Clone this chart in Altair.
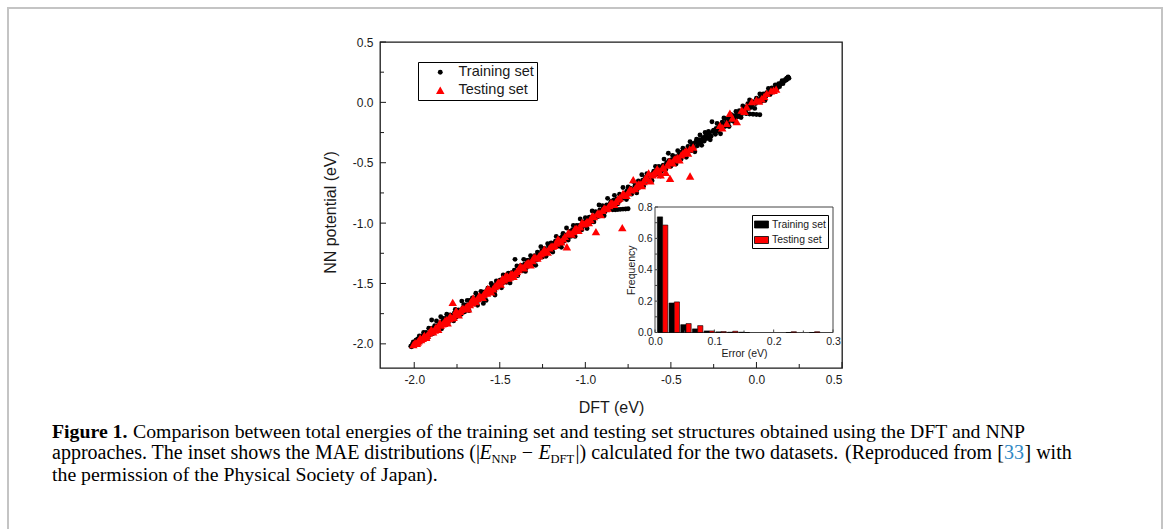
import altair as alt
import pandas as pd

# ---------------- data ----------------
series_names = ["Training set", "Testing set"]

train_dft = [
    -2.02, -2.015, -2.01, -2.00, -1.99, -1.985, -1.975, -1.97, -1.96, -1.955,
    -1.945, -1.94, -1.93, -1.92, -1.915, -1.905, -1.898, -1.89, -1.88, -1.87,
    -1.865, -1.855, -1.845, -1.84, -1.83, -1.82, -1.81,
    -1.80, -1.79, -1.78, -1.77, -1.76, -1.75, -1.74, -1.722, -1.725, -1.71,
    -1.70, -1.69, -1.68, -1.67, -1.66, -1.65, -1.64, -1.63, -1.62, -1.61,
    -1.60, -1.596, -1.59, -1.58, -1.57, -1.56, -1.55,
    -1.528, -1.54, -1.53, -1.52, -1.51, -1.50, -1.49, -1.48, -1.47, -1.46,
    -1.45, -1.44, -1.43, -1.42, -1.411, -1.40, -1.395, -1.38, -1.37, -1.36,
    -1.35, -1.34, -1.33, -1.32, -1.31, -1.30, -1.29, -1.28, -1.27, -1.26,
    -1.25, -1.24, -1.23, -1.22, -1.21,
    -1.20, -1.19, -1.18, -1.17, -1.16, -1.15, -1.14, -1.13, -1.12, -1.11,
    -1.10, -1.09, -1.08, -1.07, -1.06, -1.05, -1.04, -1.03, -1.02, -1.01,
    -1.00, -0.99, -0.98, -0.97, -0.96, -0.95, -0.94, -0.93, -0.92, -0.91,
    -0.90, -0.89, -0.88, -0.87, -0.86,
    -0.84, -0.825, -0.81, -0.795, -0.78, -0.765, -0.75,
    -0.85, -0.84, -0.83, -0.82, -0.81, -0.80, -0.79, -0.78, -0.77, -0.76,
    -0.75, -0.74, -0.73, -0.72, -0.71, -0.70, -0.69, -0.68, -0.67, -0.66,
    -0.65, -0.64, -0.63, -0.61, -0.60, -0.59, -0.58, -0.57, -0.56, -0.55,
    -0.54, -0.53, -0.515, -0.51, -0.50, -0.49, -0.48, -0.47, -0.46,
    -0.45, -0.44, -0.43, -0.42, -0.41, -0.40, -0.388, -0.38, -0.37, -0.36,
    -0.35, -0.34, -0.33, -0.32, -0.31, -0.30, -0.29, -0.28, -0.27, -0.26,
    -0.25, -0.24, -0.23, -0.22, -0.21, -0.20, -0.19, -0.18, -0.17, -0.16,
    -0.15, -0.14, -0.13, -0.12, -0.11,
    -0.08, -0.06, -0.04, -0.02, 0.00, 0.02,
    -0.10, -0.09, -0.08, -0.07, -0.06, -0.05, -0.04, -0.03, -0.02, -0.01,
    0.00, 0.01, 0.02, 0.03, 0.04, 0.05, 0.06, 0.07, 0.08, 0.09,
    0.10, 0.11, 0.12, 0.13, 0.14, 0.15, 0.16, 0.17, 0.177, 0.185, 0.19,
    -2.005, -1.995, -1.98, -1.965, -1.95, -1.935, -1.925, -1.91, -1.895, -1.885,
    -1.875, -1.86, -1.85, -1.835, -1.825, -1.815, -1.805, -1.795, -1.785, -1.765,
    -1.755, -1.745, -1.735, -1.715, -1.705, -1.695, -1.685, -1.675, -1.655, -1.645,
    -1.635, -1.625, -1.615, -1.605, -1.585, -1.575, -1.565, -1.545, -1.535, -1.525,
    -1.515, -1.505, -1.495, -1.485, -1.475, -1.465, -1.455, -1.445, -1.435, -1.425,
    -1.415, -1.405, -1.385, -1.375, -1.365, -1.355, -1.345, -1.335, -1.325, -1.315,
    -1.305, -1.295, -1.285, -1.275, -1.265, -1.255, -1.245, -1.235, -1.225, -1.215,
    -1.205, -1.195, -1.185, -1.175, -1.165, -1.155, -1.145, -1.135, -1.125, -1.115,
    -1.105, -1.095, -1.085, -1.075, -1.065, -1.055, -1.045, -1.035, -1.025, -1.015,
    -1.005, -0.995, -0.985, -0.975, -0.965, -0.955, -0.945, -0.935, -0.925, -0.915,
    -0.905, -0.895, -0.885, -0.875, -0.865, -0.855, -0.845, -0.835, -0.815, -0.805,
    -0.785, -0.775, -0.755, -0.745, -0.735, -0.725, -0.705, -0.695, -0.685, -0.675,
    -0.665, -0.655, -0.645, -0.635, -0.625, -0.615, -0.605, -0.595, -0.585, -0.575,
    -0.565, -0.555, -0.545, -0.535, -0.525, -0.505, -0.495, -0.485, -0.475, -0.465,
    -0.455, -0.445, -0.435, -0.425, -0.415, -0.405, -0.395, -0.385, -0.375, -0.365,
    -0.355, -0.345, -0.335, -0.325, -0.315, -0.305, -0.295, -0.285, -0.275, -0.265,
    -0.255, -0.245, -0.235, -0.225, -0.215, -0.205, -0.195, -0.185, -0.175, -0.165,
    -0.155, -0.145, -0.135, -0.125, -0.115, -0.105, -0.095, -0.085, -0.075, -0.065,
    -0.055, -0.045, -0.035, -0.025, -0.015, -0.005, 0.005, 0.015, 0.025, 0.035,
    0.045, 0.055, 0.065, 0.075, 0.085, 0.095, 0.105, 0.115, 0.125, 0.135,
    0.145, 0.155, 0.165, 0.175, 0.18,
]
train_nnp = [
    -2.02, -2.025, -2.00, -2.005, -1.97, -2.00, -1.965, -1.935, -1.98, -1.935,
    -1.905, -1.95, -1.905, -1.95, -1.87, -1.895, -1.803, -1.915, -1.85, -1.81,
    -1.88, -1.835, -1.775, -1.875, -1.79, -1.82, -1.755,
    -1.82, -1.76, -1.77, -1.81, -1.715, -1.76, -1.72, -1.646, -1.755, -1.675,
    -1.715, -1.64, -1.725, -1.66, -1.62, -1.67, -1.58, -1.68, -1.605, -1.565,
    -1.63, -1.665, -1.57, -1.64, -1.54, -1.57, -1.50,
    -1.596, -1.53, -1.565, -1.48, -1.53, -1.475, -1.535, -1.43, -1.47, -1.49,
    -1.415, -1.495, -1.41, -1.435, -1.30, -1.355, -1.435, -1.365, -1.395, -1.30,
    -1.40, -1.31, -1.34, -1.27, -1.345, -1.28, -1.35, -1.24, -1.27, -1.195,
    -1.28, -1.21, -1.275, -1.17, -1.23,
    -1.165, -1.24, -1.17, -1.11, -1.19, -1.125, -1.20, -1.085, -1.135, -1.04,
    -1.14, -1.07, -1.10, -1.02, -1.11, -1.02, -1.05, -0.965, -1.055, -0.995,
    -0.955, -1.045, -0.955, -0.99, -0.90, -0.99, -0.905, -0.93, -0.85, -0.94,
    -0.855, -0.94, -0.86, -0.795, -0.88,
    -0.89, -0.889, -0.887, -0.886, -0.884, -0.883, -0.881,
    -0.82, -0.88, -0.77, -0.82, -0.84, -0.76, -0.805, -0.705, -0.75, -0.805,
    -0.70, -0.735, -0.76, -0.655, -0.69, -0.75, -0.65, -0.69, -0.60, -0.695,
    -0.625, -0.59, -0.65, -0.65, -0.57, -0.53, -0.59, -0.53, -0.61, -0.535,
    -0.47, -0.555, -0.422, -0.48, -0.53, -0.44, -0.48, -0.51, -0.40,
    -0.43, -0.47, -0.38, -0.415, -0.455, -0.365, -0.326, -0.40, -0.34, -0.41,
    -0.305, -0.34, -0.27, -0.355, -0.29, -0.25, -0.30, -0.24, -0.31, -0.16,
    -0.23, -0.265, -0.175, -0.22, -0.26, -0.165, -0.13, -0.195, -0.14, -0.20,
    -0.10, -0.13, -0.16, -0.075, -0.12,
    -0.09, -0.093, -0.096, -0.098, -0.10, -0.103,
    -0.07, -0.125, -0.03, -0.07, -0.09, -0.01, 0.02, -0.04, 0.005, -0.05,
    0.035, 0.01, 0.07, 0.01, 0.07, 0.015, 0.08, 0.115, 0.065, 0.12,
    0.10, 0.145, 0.11, 0.155, 0.15, 0.18, 0.175, 0.19, 0.20, 0.21, 0.20,
    -1.985, -2.01, -1.96, -1.975, -1.96, -1.92, -1.915, -1.925, -1.87, -1.89,
    -1.88, -1.85, -1.86, -1.815, -1.84, -1.79, -1.80, -1.785, -1.80, -1.745,
    -1.78, -1.73, -1.75, -1.70, -1.735, -1.68, -1.69, -1.64, -1.65, -1.665,
    -1.61, -1.64, -1.62, -1.585, -1.60, -1.565, -1.585, -1.52, -1.55, -1.51,
    -1.505, -1.515, -1.47, -1.50, -1.455, -1.475, -1.44, -1.455, -1.425, -1.455,
    -1.39, -1.415, -1.39, -1.35, -1.38, -1.34, -1.37, -1.31, -1.33, -1.30,
    -1.325, -1.27, -1.305, -1.255, -1.285, -1.23, -1.26, -1.22, -1.245, -1.19,
    -1.22, -1.18, -1.205, -1.15, -1.175, -1.14, -1.17, -1.11, -1.15, -1.10,
    -1.12, -1.085, -1.11, -1.055, -1.08, -1.04, -1.07, -1.02, -1.035, -0.99,
    -1.02, -0.975, -1.005, -0.95, -0.98, -0.94, -0.96, -0.915, -0.945, -0.89,
    -0.92, -0.88, -0.905, -0.85, -0.87, -0.84, -0.85, -0.81, -0.80, -0.82,
    -0.77, -0.79, -0.73, -0.76, -0.71, -0.73, -0.69, -0.715, -0.665, -0.68,
    -0.645, -0.67, -0.62, -0.64, -0.60, -0.63, -0.59, -0.605, -0.56, -0.58,
    -0.55, -0.57, -0.52, -0.54, -0.50, -0.51, -0.475, -0.50, -0.45, -0.47,
    -0.44, -0.455, -0.41, -0.44, -0.395, -0.42, -0.37, -0.39, -0.355, -0.38,
    -0.33, -0.36, -0.31, -0.33, -0.30, -0.32, -0.27, -0.29, -0.26, -0.28,
    -0.24, -0.25, -0.215, -0.24, -0.19, -0.215, -0.18, -0.20, -0.155, -0.17,
    -0.135, -0.15, -0.11, -0.13, -0.10, -0.11, -0.075, -0.09, -0.055, -0.065,
    -0.035, -0.05, -0.015, -0.02, 0.0, -0.01, 0.02, 0.015, 0.04, 0.035,
    0.055, 0.05, 0.075, 0.07, 0.095, 0.085, 0.12, 0.115, 0.135, 0.13,
    0.16, 0.155, 0.18, 0.185, 0.195,
]

test_dft = [
    -2.005, -1.995, -1.985, -1.975, -1.965, -1.95, -1.94, -1.93, -1.915, -1.90,
    -1.89, -1.875, -1.86, -1.85, -1.835, -1.82, -1.805, -1.79, -1.775, -1.77,
    -1.755, -1.74, -1.725, -1.70, -1.685, -1.67, -1.655, -1.64, -1.62, -1.60,
    -1.585, -1.57, -1.55, -1.53, -1.51, -1.495, -1.485, -1.475, -1.465, -1.45,
    -1.435, -1.42, -1.40, -1.38, -1.36, -1.34, -1.32, -1.30, -1.28, -1.26,
    -1.24, -1.22, -1.20, -1.18, -1.16, -1.14, -1.12, -1.108, -1.10, -1.08,
    -1.06, -1.04, -1.02, -1.00, -0.98, -0.96, -0.938, -0.93, -0.91, -0.89,
    -0.87, -0.85, -0.83, -0.81, -0.784, -0.78, -0.76, -0.74, -0.72, -0.71,
    -0.69, -0.67, -0.65, -0.63, -0.62, -0.60, -0.58, -0.56, -0.545, -0.53,
    -0.51, -0.505, -0.49, -0.47, -0.45, -0.43, -0.40, -0.388, -0.37,
    -0.213, -0.174, -0.115, -0.155, -0.086, -0.057, -0.027, 0.00, 0.03, 0.06,
    0.085, 0.115,
    -1.98, -1.96, -1.945, -1.925, -1.905, -1.88, -1.865, -1.845, -1.825, -1.81,
    -1.795, -1.78, -1.76, -1.745, -1.73, -1.715, -1.69, -1.675, -1.66, -1.645,
    -1.63, -1.61, -1.595, -1.575, -1.56, -1.54, -1.52, -1.505, -1.49, -1.47,
    -1.455, -1.44, -1.425, -1.41, -1.39, -1.37, -1.35, -1.33, -1.31, -1.29,
    -1.27, -1.25, -1.23, -1.21, -1.19, -1.17, -1.15, -1.13, -1.09, -1.07,
    -1.05, -1.03, -1.01, -0.99, -0.97, -0.95, -0.92, -0.90, -0.88, -0.86,
    -0.84, -0.82, -0.80, -0.77, -0.75, -0.73, -0.70, -0.68, -0.66, -0.64,
    -0.61, -0.59, -0.57, -0.55, -0.52, -0.50, -0.48, -0.46, -0.44, -0.42,
    -0.41, -0.39, -0.20, -0.14, -0.07, 0.015, 0.045, 0.10,
]
test_nnp = [
    -2.005, -1.99, -1.995, -1.975, -1.95, -1.955, -1.93, -1.945, -1.91, -1.88,
    -1.90, -1.865, -1.88, -1.825, -1.835, -1.805, -1.825, -1.77, -1.657, -1.78,
    -1.725, -1.76, -1.715, -1.70, -1.71, -1.655, -1.62, -1.65, -1.60, -1.615,
    -1.575, -1.54, -1.57, -1.525, -1.49, -1.505, -1.46, -1.47, -1.435, -1.455,
    -1.42, -1.44, -1.40, -1.355, -1.37, -1.33, -1.345, -1.28, -1.29, -1.255,
    -1.215, -1.24, -1.19, -1.185, -1.13, -1.155, -1.11, -1.196, -1.08, -1.09,
    -1.045, -1.06, -0.995, -1.00, -0.995, -0.94, -1.071, -0.92, -0.93, -0.875,
    -0.875, -0.83, -0.845, -0.80, -1.038, -0.755, -0.77, -0.72, -0.64, -0.715,
    -0.675, -0.69, -0.63, -0.585, -0.65, -0.59, -0.55, -0.60, -0.535, -0.58,
    -0.49, -0.63, -0.50, -0.465, -0.475, -0.42, -0.42, -0.61, -0.37,
    -0.19, -0.174, -0.16, -0.09, -0.063, -0.036, 0.006, 0.02, 0.03, 0.075,
    0.095, 0.11,
    -1.985, -1.965, -1.94, -1.93, -1.895, -1.885, -1.86, -1.845, -1.83, -1.80,
    -1.79, -1.785, -1.755, -1.745, -1.73, -1.705, -1.685, -1.675, -1.66, -1.64,
    -1.625, -1.61, -1.59, -1.58, -1.55, -1.545, -1.515, -1.49, -1.48, -1.455,
    -1.44, -1.445, -1.42, -1.415, -1.385, -1.365, -1.345, -1.325, -1.31, -1.285,
    -1.27, -1.245, -1.23, -1.205, -1.19, -1.165, -1.145, -1.13, -1.085, -1.07,
    -1.045, -1.03, -1.005, -0.985, -0.97, -0.945, -0.915, -0.895, -0.88, -0.855,
    -0.835, -0.82, -0.79, -0.765, -0.745, -0.725, -0.695, -0.675, -0.655, -0.63,
    -0.60, -0.575, -0.565, -0.545, -0.52, -0.495, -0.47, -0.455, -0.435, -0.41,
    -0.40, -0.385, -0.21, -0.13, -0.075, 0.01, 0.05, 0.10,
]

# inset histogram: centre of each pair of bars (eV) and frequencies
err_bin_center = [0.0128, 0.0325, 0.0522, 0.0719, 0.0916, 0.1113, 0.1310, 0.1507, 0.2295, 0.2689]
freq_train = [0.737, 0.188, 0.050, 0.023, 0.010, 0.004, 0.002, 0.002, 0.000, 0.000]
freq_test = [0.685, 0.195, 0.057, 0.044, 0.010, 0.006, 0.008, 0.000, 0.005, 0.005]

main_major = [-2.0, -1.5, -1.0, -0.5, 0.0, 0.5]
main_minor = [-1.75, -1.25, -0.75, -0.25, 0.25]
main_limits = [-2.2, 0.5]
inset_x_major = [0.0, 0.1, 0.2, 0.3]
inset_x_minor = [0.05, 0.15, 0.25]
inset_y_major = [0.0, 0.2, 0.4, 0.6, 0.8]
inset_y_minor = [0.1, 0.3, 0.5, 0.7]
inset_x_limits = [0.0, 0.3]
inset_y_limits = [0.0, 0.8]

cap_fig = "Figure 1."
cap_l1 = ("Comparison between total energies of the training set and testing set "
          "structures obtained using the DFT and NNP")
cap_l2a = "approaches. The inset shows the MAE distributions (|"
cap_E = "E"
cap_nnp = "NNP"
cap_minus = "\u2212"
cap_dft = "DFT"
cap_l2b = "|) calculated for the two datasets."
cap_l2c = "(Reproduced from ["
cap_ref = "33"
cap_l2d = "] with"
cap_l3 = "the permission of the Physical Society of Japan)."

# ---------------- layout (page pixels) ----------------
PAGE_W, PAGE_H = 1166, 529
PX0, PY0 = 380, 42
W, H = 462, 326
IN_L, IN_R, IN_T, IN_B = 655.0, 833.0, 207.0, 332.5

SANS = "Liberation Sans"
SERIF = "Liberation Serif"
INK = "#1a1a1a"
CAP = 19.8
CAP2 = 20.0
SUB = 12.5

main_scale = alt.Scale(domain=main_limits, nice=False, zero=False)

ix_per = (IN_R - IN_L) / (inset_x_limits[1] - inset_x_limits[0])
iy_per = (IN_B - IN_T) / (inset_y_limits[1] - inset_y_limits[0])
inset_x_scale = alt.Scale(
    domain=[inset_x_limits[0] - (IN_L - PX0) / ix_per,
            inset_x_limits[1] + (PX0 + W - IN_R) / ix_per],
    nice=False, zero=False)
inset_y_scale = alt.Scale(
    domain=[inset_y_limits[0] - (PY0 + H - IN_B) / iy_per,
            inset_y_limits[1] + (IN_T - PY0) / iy_per],
    nice=False, zero=False)

minus_fix = "replace(format(datum.value, '.1f'), '\u2212', '-')"

# ---------------- main scatter ----------------
scatter_df = pd.DataFrame({
    "dft": train_dft + test_dft,
    "nnp": train_nnp + test_nnp,
    "set": [series_names[0]] * len(train_dft) + [series_names[1]] * len(test_dft),
})

main_legend = alt.Legend(
    orient="none", legendX=38, legendY=20, title=None,
    strokeColor="black", fillColor="white", padding=3,
    labelFont=SANS, labelFontSize=14.5, labelColor=INK,
    symbolOffset=12, labelOffset=11, rowPadding=3, symbolStrokeWidth=0,
)

x_axis = alt.Axis(
    orient="bottom", title="DFT (eV)", values=main_major, labelExpr=minus_fix,
    ticks=False, domain=False, grid=False, labelPadding=6,
    labelFont=SANS, labelFontSize=12, labelColor=INK,
    titleFont=SANS, titleFontSize=16, titleFontWeight="normal", titleColor=INK,
    titlePadding=14,
)
y_axis = alt.Axis(
    orient="left", title="NN potential (eV)", values=main_major, labelExpr=minus_fix,
    ticks=False, domain=False, grid=False, labelPadding=7,
    labelFont=SANS, labelFontSize=12, labelColor=INK,
    titleFont=SANS, titleFontSize=16, titleFontWeight="normal", titleColor=INK,
    titleX=-50, titleY=170, titleBaseline="middle", titleAlign="center", titleAngle=270,
)

scatter = alt.Chart(scatter_df).mark_point(filled=True, opacity=1, strokeWidth=0).encode(
    x=alt.X("dft:Q", scale=main_scale, axis=x_axis),
    y=alt.Y("nnp:Q", scale=main_scale, axis=y_axis),
    color=alt.Color("set:N", scale=alt.Scale(domain=series_names, range=["black", "red"]),
                    legend=main_legend),
    shape=alt.Shape("set:N", scale=alt.Scale(domain=series_names, range=["circle", "triangle-up"]),
                    legend=main_legend),
    size=alt.Size("set:N", scale=alt.Scale(domain=series_names, range=[24, 72]),
                  legend=main_legend),
)


def xticks(vals, length):
    return alt.Chart(pd.DataFrame({"v": vals})).mark_rule(color=INK, strokeWidth=1).encode(
        x=alt.X("v:Q", scale=main_scale, axis=None),
        y=alt.value(H), y2=alt.value(H - length))


def yticks(vals, length):
    return alt.Chart(pd.DataFrame({"v": vals})).mark_rule(color=INK, strokeWidth=1).encode(
        y=alt.Y("v:Q", scale=main_scale, axis=None),
        x=alt.value(0), x2=alt.value(length))


def text_layer(s, x, y, size=CAP, weight="normal", style="normal", align="left",
               color="black", font=SERIF):
    return alt.Chart(pd.DataFrame({"t": [s]})).mark_text(
        align=align, baseline="alphabetic", font=font, fontSize=size,
        fontWeight=weight, fontStyle=style, color=color,
    ).encode(text="t:N", x=alt.value(x - PX0), y=alt.value(y - PY0))


frame = alt.Chart(pd.DataFrame({"k": [0]})).mark_rect(
    fill="transparent", stroke="#c4c4c4", strokeWidth=2
).encode(x=alt.value(8 - PX0), x2=alt.value(1162 - PX0),
         y=alt.value(8 - PY0), y2=alt.value(PAGE_H + 30 - PY0))

L1, L2, L3 = 437.5, 459.0, 480.5
captions = [
    text_layer(cap_fig, 52, L1, weight="bold"),
    text_layer(cap_l1, 1025, L1, align="right"),
    text_layer(cap_l2a, 52, L2, size=CAP2),
    text_layer(cap_E, 479.5, L2, size=CAP2, style="italic"),
    text_layer(cap_nnp, 491.5, L2 + 3.5, size=SUB),
    text_layer(cap_minus, 527.5, L2, size=CAP2, align="center"),
    text_layer(cap_E, 538.5, L2, size=CAP2, style="italic"),
    text_layer(cap_dft, 550.5, L2 + 3.5, size=SUB),
    text_layer(cap_l2b, 575.5, L2, size=CAP2),
    text_layer(cap_l2c, 845, L2, size=CAP2),
    text_layer(cap_ref, 1004, L2, size=CAP2, color="#2f88c4"),
    text_layer(cap_l2d, 1024.5, L2, size=CAP2),
    text_layer(cap_l3, 52, L3),
]

# ---------------- inset histogram ----------------
BAR_W = 0.0088
rows = []
for c, ft, fs in zip(err_bin_center, freq_train, freq_test):
    rows.append({"x0": c - BAR_W, "x1": c, "freq": ft, "base": 0.0, "hset": series_names[0]})
    rows.append({"x0": c, "x1": c + BAR_W, "freq": fs, "base": 0.0, "hset": series_names[1]})
hist_df = pd.DataFrame(rows)

inset_legend = alt.Legend(
    orient="none", legendX=372, legendY=173, title=None,
    strokeColor="black", fillColor="white", padding=2,
    labelFont=SANS, labelFontSize=10.4, labelColor=INK,
    symbolType="M-1,-0.5H1V0.5H-1Z", symbolSize=196,
    symbolStrokeColor="black", symbolStrokeWidth=0.8,
    labelOffset=3, rowPadding=2.5, symbolOffset=0,
)

inset_x_axis = alt.Axis(
    values=inset_x_major, orient="bottom", offset=-(PY0 + H - IN_B),
    ticks=False, domain=False, grid=False, labelExpr="format(datum.value, '.1f')",
    labelPadding=4, labelFont=SANS, labelFontSize=10.5, labelColor=INK,
    title="Error (eV)", titleFont=SANS, titleFontSize=10.5, titleFontWeight="normal",
    titleColor=INK, titleX=(IN_L + IN_R) / 2 - PX0, titleY=20.5,
    titleBaseline="middle", titleAlign="center",
)
inset_y_axis = alt.Axis(
    values=inset_y_major, orient="left", offset=-(IN_L - PX0),
    ticks=False, domain=False, grid=False, labelExpr="format(datum.value, '.1f')",
    labelPadding=3, labelFont=SANS, labelFontSize=10.5, labelColor=INK,
    title="Frequency", titleFont=SANS, titleFontSize=10.5, titleFontWeight="normal",
    titleColor=INK, titleX=-24, titleY=(IN_T + IN_B) / 2 - PY0,
    titleBaseline="middle", titleAlign="center", titleAngle=270,
)

inset_box = alt.Chart(pd.DataFrame({
    "a": [inset_x_limits[0]], "b": [inset_x_limits[1]],
    "c": [inset_y_limits[0]], "d": [inset_y_limits[1]],
})).mark_rect(fill="white", stroke="#444444", strokeWidth=1).encode(
    x=alt.X("a:Q", scale=inset_x_scale, axis=None), x2="b:Q",
    y=alt.Y("c:Q", scale=inset_y_scale, axis=None), y2="d:Q",
)

bars = alt.Chart(hist_df).mark_rect(stroke="black", strokeWidth=0.6).encode(
    x=alt.X("x0:Q", scale=inset_x_scale, axis=inset_x_axis), x2="x1:Q",
    y=alt.Y("freq:Q", scale=inset_y_scale, axis=inset_y_axis), y2="base:Q",
    fill=alt.Fill("hset:N", scale=alt.Scale(domain=series_names, range=["black", "red"]),
                  legend=inset_legend),
)


def ixticks(vals, length):
    return alt.Chart(pd.DataFrame({"v": vals})).mark_rule(color="#444444", strokeWidth=1).encode(
        x=alt.X("v:Q", scale=inset_x_scale, axis=None),
        y=alt.value(IN_B - PY0), y2=alt.value(IN_B - PY0 - length))


def iyticks(vals, length):
    return alt.Chart(pd.DataFrame({"v": vals})).mark_rule(color="#444444", strokeWidth=1).encode(
        y=alt.Y("v:Q", scale=inset_y_scale, axis=None),
        x=alt.value(IN_L - PX0), x2=alt.value(IN_L - PX0 + length))


layers = [
    frame, scatter,
    xticks(main_major, 6), xticks(main_minor, 4),
    yticks(main_major, 6), yticks(main_minor, 4),
    *captions,
    inset_box, bars,
    ixticks(inset_x_major, 3), ixticks(inset_x_minor, 2),
    iyticks(inset_y_major, 3), iyticks(inset_y_minor, 2),
]

chart = alt.layer(*layers).resolve_scale(
    x="independent", y="independent", fill="independent"
).resolve_legend(fill="independent").properties(
    width=W, height=H,
    padding={"left": PX0, "top": PY0, "right": PAGE_W - PX0 - W, "bottom": PAGE_H - PY0 - H},
    autosize=alt.AutoSizeParams(type="none"),
).configure(background="white").configure_view(stroke=INK, strokeWidth=1.3)

chart.save("out.html", embed_options={"renderer": "svg", "actions": False})
